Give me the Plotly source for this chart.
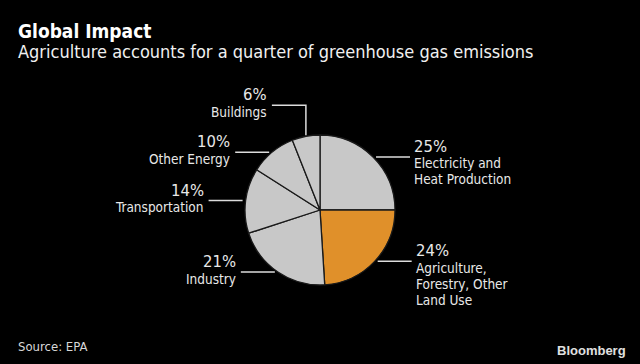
import math
import plotly.graph_objects as go

# ---- data ----
categories = ["Electricity and<br>Heat Production",
              "Agriculture,<br>Forestry, Other<br>Land Use",
              "Industry", "Transportation", "Other Energy", "Buildings"]
shares = [25, 24, 21, 14, 10, 6]
pct_labels = ["25%", "24%", "21%", "14%", "10%", "6%"]

# ---- style / layout ----
W, H = 640, 364
CX, CY, R = 320, 210, 75          # pie centre and radius in pixels
GRAY = "#c8c8c8"
ORANGE = "#e0902a"
colors = [GRAY, ORANGE, GRAY, GRAY, GRAY, GRAY]
TEXT = "#e8e8e8"
LINE = "#dcdcdc"
FONT = "DejaVu Sans Condensed, DejaVu Sans, sans-serif"
GAP, LEN = 3, 34
ELBOW_UP = 31   # the smallest slice gets a vertical elbow leader
LINE_STEP = 16

fig = go.Figure()
fig.add_trace(go.Pie(
    values=shares, labels=categories, sort=False, direction="clockwise",
    rotation=0, textinfo="none", hoverinfo="label+percent",
    marker=dict(colors=colors, line=dict(color="#1a1a1a", width=1.3)),
    domain=dict(x=[(CX - R) / W, (CX + R) / W],
                y=[(H - CY - R) / H, (H - CY + R) / H]),
    showlegend=False,
))

shapes, annos = [], []
total = sum(shares)
cum = 0
for i, (v, name, pct) in enumerate(zip(shares, categories, pct_labels)):
    mid = (cum + v / 2) / total * 2 * math.pi
    cum += v
    px = CX + R * math.sin(mid)
    py = CY - R * math.cos(mid)
    right = math.sin(mid) > 0
    if i == len(shares) - 1:
        ytop = py - ELBOW_UP
        shapes.append(dict(type="path",
                           path=f"M {px:.1f} {py - 1:.1f} L {px:.1f} {ytop:.1f} L {px - LEN:.1f} {ytop:.1f}",
                           line=dict(color=LINE, width=1.5), xref="x", yref="y"))
        ly = ytop
        lx_end = px - LEN
    else:
        ly = py
        if right:
            x0, x1 = px + GAP, px + GAP + LEN
        else:
            x0, x1 = px - GAP, px - GAP - LEN
        shapes.append(dict(type="line", x0=x0, x1=x1, y0=ly, y1=ly,
                           line=dict(color=LINE, width=1.5), xref="x", yref="y"))
        lx_end = x1
    tx = lx_end + (2 if right else -3)
    anchor = "left" if right else "right"
    annos.append(dict(x=tx, y=ly - 10.5, xref="x", yref="y", text=pct,
                      showarrow=False, xanchor=anchor, yanchor="middle",
                      align=anchor, font=dict(family=FONT, size=16.5, color=TEXT)))
    for k, part in enumerate(name.split("<br>")):
        annos.append(dict(x=tx, y=ly + 6.5 + k * LINE_STEP, xref="x", yref="y", text=part,
                          showarrow=False, xanchor=anchor, yanchor="middle",
                          align=anchor, font=dict(family=FONT, size=13.5, color=TEXT)))

# titles and footer
annos += [
    dict(x=16, y=31, xref="x", yref="y", text="<b>Global Impact</b>", showarrow=False,
         xanchor="left", yanchor="middle", font=dict(family=FONT, size=19, color="#ffffff")),
    dict(x=16, y=51, xref="x", yref="y",
         text="Agriculture accounts for a quarter of greenhouse gas emissions",
         showarrow=False, xanchor="left", yanchor="middle",
         font=dict(family=FONT, size=18, color="#f0f0f0")),
    dict(x=16, y=346, xref="x", yref="y", text="Source: EPA", showarrow=False,
         xanchor="left", yanchor="middle", font=dict(family=FONT, size=13, color="#d8d8d8")),
    dict(x=628, y=350, xref="x", yref="y", text="<b>Bloomberg</b>", showarrow=False,
         xanchor="right", yanchor="middle",
         font=dict(family="Liberation Sans, Arial, sans-serif", size=13, color="#e0e0e0")),
]

fig.update_layout(
    width=W, height=H, margin=dict(l=0, r=0, t=0, b=0),
    paper_bgcolor="#000000", plot_bgcolor="#000000",
    xaxis=dict(range=[0, W], visible=False, fixedrange=True),
    yaxis=dict(range=[H, 0], visible=False, fixedrange=True),
    shapes=shapes, annotations=annos, showlegend=False,
)
fig.write_html("out.html", config={"displayModeBar": False},
               post_script="document.body.style.margin='0';document.body.style.background='#000';")
